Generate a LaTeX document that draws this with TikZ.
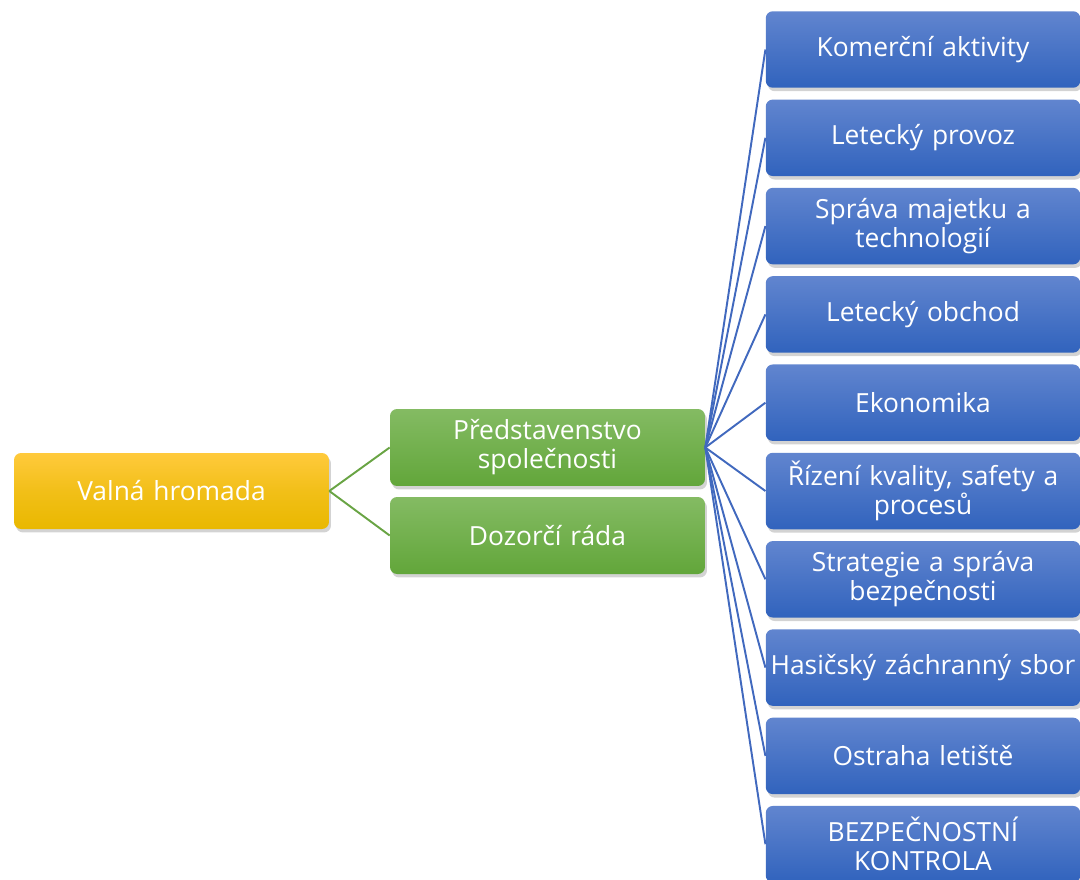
\documentclass[tikz,border=0pt]{standalone}
\usepackage{fontspec}
\setmainfont{Open Sans}
\usepackage{tikz}
\usetikzlibrary{calc,shadows}
\definecolor{yelTop}{HTML}{FFCA3C}
\definecolor{yelBot}{HTML}{E9B800}
\definecolor{grnTop}{HTML}{84BB63}
\definecolor{grnBot}{HTML}{62A63A}
\definecolor{bluTop}{HTML}{6185CF}
\definecolor{bluBot}{HTML}{3163BD}
\definecolor{grnLine}{HTML}{69A444}
\definecolor{bluLine}{HTML}{4169BE}
\tikzset{
  box/.style={rectangle,rounded corners=4pt,text=white,align=center,
    font=\fontsize{15}{16.5}\selectfont,inner sep=2pt,
    drop shadow={shadow xshift=0.4mm,shadow yshift=-0.7mm,opacity=0.35}},
  yelbox/.style={box,top color=yelTop,bottom color=yelBot,middle color=yelBot!60!yelTop,
    minimum width=6.3cm,minimum height=1.52cm,text width=6cm},
  grnbox/.style={box,top color=grnTop,bottom color=grnBot,
    minimum width=6.3cm,minimum height=1.54cm,text width=6cm},
  blubox/.style={box,top color=bluTop,bottom color=bluBot,
    minimum width=6.24cm,minimum height=1.53cm,text width=6.15cm},
}
\newcommand{\conn}[3]{\draw[#3,line width=1.1pt] (#1) -- (#2);}

\begin{document}
\begin{tikzpicture}[x=0.02cm,y=-0.02cm]
			\useasboundingbox (0,0) rectangle (1080,880);
			\node[yelbox](valna) at (171.5,491) {Valná hromada};
			\node[grnbox](pred) at (547.5,447.5) {Představenstvo\\společnosti};
			\node[grnbox](dozor) at (547.5,535.5) {Dozorčí ráda};
			
			\node[blubox](b0) at (923,49.5) {Komerční aktivity};
			\node[blubox](b1) at (923,137.8) {Letecký provoz};
			\node[blubox](b2) at (923,226.1) {Správa majetku a\\technologií};
			\node[blubox](b3) at (923,314.4) {Letecký obchod};
			\node[blubox](b4) at (923,402.7) {Ekonomika};
			\node[blubox](b5) at (923,491) {Řízení kvality, safety a\\procesů};
			\node[blubox](b6) at (923,579.3) {Strategie a správa\\bezpečnosti};
			\node[blubox](b7) at (923,667.6) {Hasičský záchranný sbor};
			\node[blubox](b8) at (923,755.9) {Ostraha letiště};
			\node[blubox](b9) at (923,844.2) {BEZPEČNOSTNÍ\\KONTROLA};
			
			\conn{valna.east}{pred.west}{grnLine}
			\conn{valna.east}{dozor.west}{grnLine}
			\foreach \i in {0,...,9}{
				\conn{pred.east}{b\i.west}{bluLine}
			}
		\end{tikzpicture}
\end{document}
